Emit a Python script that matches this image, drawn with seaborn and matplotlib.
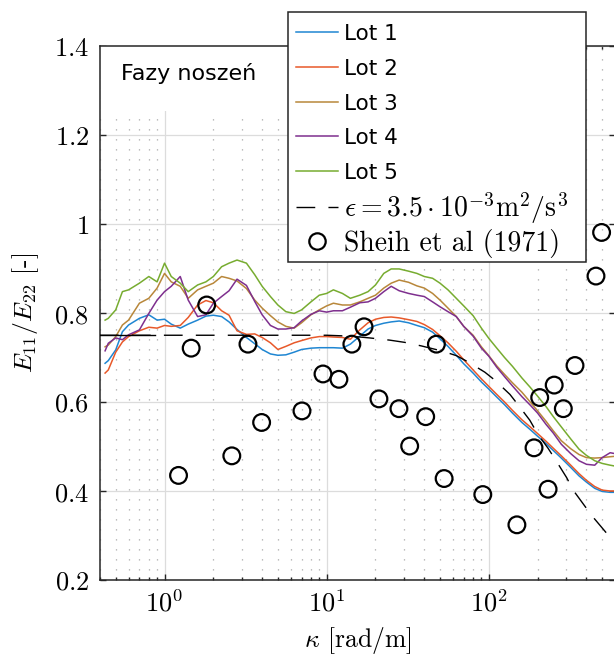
import numpy as np
import pandas as pd
import matplotlib
matplotlib.use("Agg")
import matplotlib.pyplot as plt
import seaborn as sns
from matplotlib.lines import Line2D
from matplotlib.patches import Rectangle
from matplotlib.ticker import FixedLocator, FuncFormatter, LogLocator, NullLocator, NullFormatter

# ---------------- data ----------------
kappa = [0.43, 0.45, 0.5, 0.55, 0.6, 0.7, 0.8, 0.9, 1.0, 1.1, 1.25, 1.4, 1.6, 1.8, 2.0,
         2.25, 2.5, 2.8, 3.2, 3.6, 4.0, 4.5, 5.0, 5.6, 6.3, 7.0, 8.0, 9.0, 10, 11,
         12.5, 14, 16, 18, 20, 22.5, 25, 28, 32, 36, 40, 45, 50, 56, 63, 70, 80, 90,
         100, 112, 125, 140, 160, 180, 200, 225, 250, 280, 320, 360, 400, 450, 500, 560, 600]

lot1 = [0.687, 0.693, 0.717, 0.758, 0.773, 0.788, 0.796, 0.784, 0.786, 0.775, 0.766, 0.775, 0.784, 0.793, 0.795,
        0.792, 0.780, 0.763, 0.745, 0.731, 0.718, 0.708, 0.705, 0.706, 0.712, 0.718, 0.721, 0.722, 0.722, 0.722,
        0.721, 0.730, 0.748, 0.764, 0.772, 0.777, 0.780, 0.782, 0.778, 0.772, 0.767, 0.757, 0.742, 0.725, 0.705,
        0.686, 0.665, 0.645, 0.629, 0.611, 0.594, 0.575, 0.554, 0.538, 0.523, 0.507, 0.491, 0.474, 0.453, 0.434,
        0.420, 0.406, 0.399, 0.397, 0.397]
lot2 = [0.665, 0.672, 0.712, 0.735, 0.747, 0.760, 0.768, 0.766, 0.772, 0.770, 0.772, 0.790, 0.818, 0.828, 0.823,
        0.805, 0.795, 0.760, 0.752, 0.753, 0.745, 0.733, 0.718, 0.725, 0.733, 0.738, 0.744, 0.747, 0.747, 0.746,
        0.745, 0.741, 0.762, 0.778, 0.786, 0.790, 0.791, 0.789, 0.785, 0.781, 0.774, 0.763, 0.749, 0.733, 0.714,
        0.695, 0.672, 0.652, 0.635, 0.617, 0.600, 0.581, 0.560, 0.544, 0.529, 0.512, 0.496, 0.479, 0.458, 0.439,
        0.424, 0.410, 0.402, 0.400, 0.400]
lot3 = [0.724, 0.728, 0.747, 0.773, 0.784, 0.822, 0.833, 0.856, 0.889, 0.870, 0.860, 0.833, 0.852, 0.860, 0.867,
        0.882, 0.878, 0.872, 0.855, 0.829, 0.811, 0.794, 0.780, 0.770, 0.766, 0.778, 0.796, 0.807, 0.816, 0.822,
        0.818, 0.818, 0.825, 0.833, 0.840, 0.856, 0.867, 0.874, 0.869, 0.861, 0.856, 0.844, 0.829, 0.811, 0.792,
        0.770, 0.750, 0.724, 0.704, 0.681, 0.662, 0.643, 0.622, 0.600, 0.580, 0.557, 0.535, 0.513, 0.495, 0.482,
        0.475, 0.474, 0.475, 0.477, 0.478]
lot4 = [0.715, 0.732, 0.744, 0.740, 0.751, 0.762, 0.799, 0.829, 0.848, 0.860, 0.882, 0.829, 0.792, 0.796, 0.822,
        0.837, 0.850, 0.876, 0.862, 0.826, 0.796, 0.772, 0.764, 0.764, 0.767, 0.782, 0.797, 0.805, 0.802, 0.805,
        0.805, 0.813, 0.823, 0.825, 0.833, 0.848, 0.860, 0.850, 0.844, 0.840, 0.837, 0.825, 0.814, 0.803, 0.792,
        0.770, 0.748, 0.721, 0.703, 0.678, 0.657, 0.636, 0.612, 0.593, 0.575, 0.550, 0.530, 0.505, 0.484, 0.468,
        0.460, 0.458, 0.475, 0.486, 0.484]
lot5 = [0.784, 0.788, 0.807, 0.848, 0.852, 0.867, 0.882, 0.870, 0.912, 0.882, 0.867, 0.848, 0.863, 0.870, 0.882,
        0.904, 0.912, 0.919, 0.912, 0.886, 0.860, 0.837, 0.818, 0.803, 0.799, 0.807, 0.825, 0.840, 0.844, 0.852,
        0.844, 0.833, 0.840, 0.848, 0.863, 0.889, 0.899, 0.899, 0.894, 0.889, 0.882, 0.878, 0.867, 0.852, 0.833,
        0.816, 0.794, 0.766, 0.743, 0.721, 0.700, 0.680, 0.654, 0.633, 0.613, 0.590, 0.567, 0.544, 0.517, 0.494,
        0.480, 0.468, 0.462, 0.458, 0.456]

lot_names = ["Lot 1", "Lot 2", "Lot 3", "Lot 4", "Lot 5"]
lot_colors = ["#1f86d2", "#e8592a", "#b8873a", "#7e2f8e", "#77ac30"]

model_k = [0.4, 2, 5, 10, 14, 18.4, 24.5, 30.3, 38.4, 52.2, 63.2, 74.5, 94.5, 109, 135, 152, 179,
           201, 232, 262, 302, 331, 391, 440, 533, 600]
model_v = [0.75, 0.75, 0.75, 0.75, 0.748, 0.744, 0.739, 0.734, 0.726, 0.714, 0.704, 0.690, 0.667,
           0.649, 0.617, 0.593, 0.559, 0.527, 0.496, 0.466, 0.430, 0.402, 0.366, 0.341, 0.305, 0.285]
iso_k = [0.4, 0.87]
iso_v = [0.75, 0.75]

sheih_k = [1.22, 1.46, 1.82, 2.60, 3.27, 3.97, 7.04, 9.49, 11.9, 14.3, 17.0, 21.0, 27.9, 32.5,
           40.8, 47.5, 53.0, 91.8, 149, 190, 206, 232, 253, 288, 340, 458, 496]
sheih_v = [0.435, 0.721, 0.818, 0.479, 0.730, 0.554, 0.580, 0.663, 0.651, 0.730, 0.769, 0.607,
           0.585, 0.501, 0.567, 0.730, 0.428, 0.392, 0.324, 0.497, 0.610, 0.404, 0.638, 0.585,
           0.682, 0.883, 0.981]

y_ticks = [0.2, 0.4, 0.6, 0.8, 1.0, 1.2, 1.4]
y_ticklabels = ["0.2", "0.4", "0.6", "0.8", "1", "1.2", "1.4"]

model_label = r"$\epsilon = 3.5\cdot10^{-3}\mathrm{m}^2/\mathrm{s}^3$"
sheih_label = "Sheih et al (1971)"

# ---------------- style ----------------
plt.rcParams["font.family"] = ["DejaVu Sans"]
plt.rcParams["mathtext.fontset"] = "cm"
plt.rcParams["axes.unicode_minus"] = False
DARK = "#262626"
SERIF = ["cmr10", "DejaVu Serif"]
W, H = 614, 659

fig = plt.figure(figsize=(6.14, 6.59), dpi=100)
ax = fig.add_axes([100 / W, 79 / H, 515 / W, 534 / H])
ax.set_xscale("log")
ax.set_xlim(0.4, 600)
ax.set_ylim(0.2, 1.4)

lots_df = pd.concat(
    [pd.DataFrame({"kappa": kappa, "ratio": v, "lot": n})
     for n, v in zip(lot_names, [lot1, lot2, lot3, lot4, lot5])],
    ignore_index=True)

sns.lineplot(data=lots_df, x="kappa", y="ratio", hue="lot", hue_order=lot_names,
             palette=lot_colors, estimator=None, sort=False, lw=1.1, legend=False,
             ax=ax, zorder=3)

sns.lineplot(x=model_k, y=model_v, color="black", lw=1.0, estimator=None, sort=False,
             legend=False, ax=ax, zorder=4)
model_line = ax.lines[-1]
model_line.set_dashes([13.5, 9.5])
sns.lineplot(x=iso_k, y=iso_v, color="black", lw=1.0, estimator=None, sort=False,
             legend=False, ax=ax, zorder=4)

sns.scatterplot(x=sheih_k, y=sheih_v, marker="o", s=145, facecolors="none",
                edgecolor="black", linewidth=1.6, legend=False, ax=ax, zorder=5)

# grid
ax.set_axisbelow(True)
ax.grid(which="major", color="#dcdcdc", lw=0.9, ls="-")
ax.xaxis.grid(which="minor", color="#a8a8a8", lw=0.9, ls=(0, (1, 7)))
ax.yaxis.grid(False, which="minor")

# white box behind title text
ax.add_patch(Rectangle((0, (1.254 - 0.2) / 1.2), 0.45, 1 - (1.254 - 0.2) / 1.2,
                       transform=ax.transAxes, fc="white", ec="none", zorder=1.5))
ax.text(0.041, 0.949, "Fazy noszeń", transform=ax.transAxes, ha="left", va="center",
        fontsize=16, color="black", zorder=6)

# ticks
ax.xaxis.set_major_locator(LogLocator(base=10, numticks=10))
ax.xaxis.set_minor_locator(LogLocator(base=10, subs=np.arange(2, 10), numticks=20))
ax.xaxis.set_minor_formatter(NullFormatter())
ax.xaxis.set_major_formatter(FuncFormatter(lambda v, p: r"$10^{%d}$" % int(round(np.log10(v)))))
ax.yaxis.set_major_locator(FixedLocator(y_ticks))
ax.set_yticklabels(["$%s$" % t for t in y_ticklabels])
ax.yaxis.set_minor_locator(NullLocator())
ax.tick_params(which="both", direction="in", top=True, right=True, color=DARK, width=1.0)
ax.tick_params(which="major", length=4.5, labelsize=19, pad=8)
ax.tick_params(which="minor", length=2.5)
for s in ax.spines.values():
    s.set_color(DARK)
    s.set_linewidth(1.1)

ax.set_xlabel(r"$\kappa$ [rad/m]", fontsize=18.5, family=SERIF)
ax.xaxis.set_label_coords(0.5, -0.084)
ax.xaxis.label.set_va("top")
ax.set_ylabel(r"$E_{11}/E_{22}$ [-]", fontsize=18.5, family=SERIF)
ax.yaxis.set_label_coords(-0.115, 0.5)

# legend: frame + one row per entry
frame = Rectangle((288 / W, 1 - 262 / H), 298 / W, 250 / H, transform=fig.transFigure,
                  fc="white", ec=DARK, lw=1.1, zorder=20)
fig.add_artist(frame)

handles = [Line2D([], [], color=c, lw=1.1) for c in lot_colors]
handles.append(Line2D([], [], color="black", lw=1.0, dashes=[13.5, 9.5]))
handles.append(Line2D([], [], ls="none", marker="o", ms=11.8, mfc="none", mec="black", mew=1.6))
labels = lot_names + [model_label, sheih_label]
row_y = [34, 69, 104, 138, 173, 208, 243]
row_fs = [15.5] * 5 + [20, 20]
for h, lab, yy, fs in zip(handles, labels, row_y, row_fs):
    em = fs * 100 / 72.0
    leg = fig.legend([h], [lab], loc="center left", bbox_to_anchor=(296 / W, 1 - yy / H),
                     bbox_transform=fig.transFigure, frameon=False, fontsize=fs,
                     handlelength=42 / em, handletextpad=6 / em, borderpad=0,
                     borderaxespad=0)
    leg.set_zorder(21)
    if lab == sheih_label:
        leg.get_texts()[0].set_family(SERIF)

fig.savefig("out.png", dpi=100)
